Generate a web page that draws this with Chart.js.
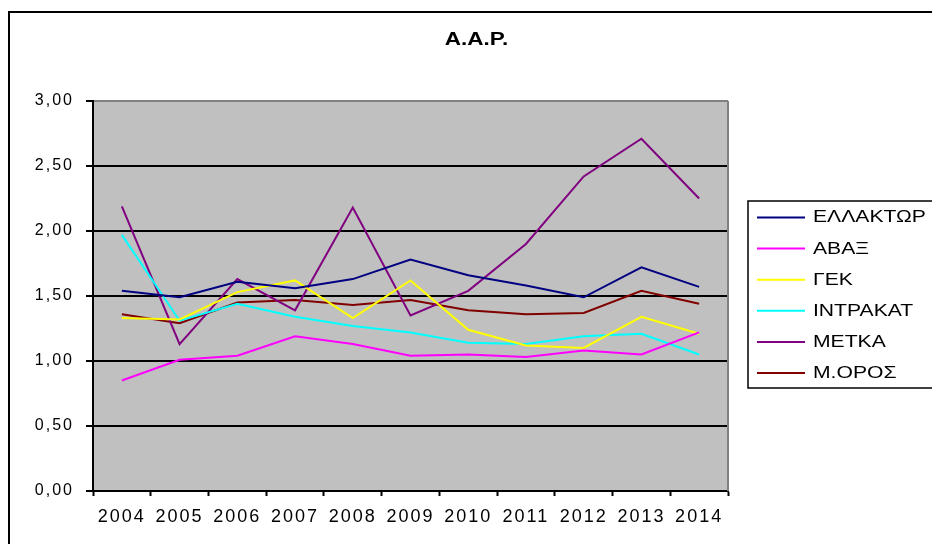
<!DOCTYPE html>
<html>
<head>
<meta charset="utf-8">
<script src="https://cdn.jsdelivr.net/npm/chart.js@4/dist/chart.umd.min.js"></script>
<style>
  body { margin: 0; background: #fff; }
  canvas { display: block; }
</style>
</head>
<body>
<canvas id="aapChart" width="932" height="544"></canvas>
<script>
/* =========================
   DATA
========================= */
const years = ['2004','2005','2006','2007','2008','2009','2010','2011','2012','2013','2014'];

const ellaktor = [1.54, 1.49, 1.61, 1.56, 1.63, 1.78, 1.66, 1.58, 1.49, 1.72, 1.57];
const avax     = [0.85, 1.01, 1.04, 1.19, 1.13, 1.04, 1.05, 1.03, 1.08, 1.05, 1.22];
const gek      = [1.33, 1.32, 1.53, 1.62, 1.33, 1.62, 1.24, 1.12, 1.10, 1.34, 1.21];
const intrakat = [1.97, 1.31, 1.44, 1.34, 1.27, 1.22, 1.14, 1.13, 1.19, 1.21, 1.05];
const metka    = [2.19, 1.13, 1.63, 1.39, 2.18, 1.35, 1.54, 1.90, 2.42, 2.71, 2.25];
const mesos    = [1.36, 1.29, 1.45, 1.47, 1.43, 1.47, 1.39, 1.36, 1.37, 1.54, 1.44];

const seriesNames  = ['ΕΛΛΑΚΤΩΡ', 'ΑΒΑΞ', 'ΓΕΚ', 'ΙΝΤΡΑΚΑΤ', 'ΜΕΤΚΑ', 'Μ.ΟΡΟΣ'];
const seriesColors = ['#000080', '#FF00FF', '#FFFF00', '#00FFFF', '#800080', '#800000'];
const seriesValues = [ellaktor, avax, gek, intrakat, metka, mesos];

const titleText = 'Α.Α.Ρ.';
const yTicks = [0, 0.5, 1, 1.5, 2, 2.5, 3];

/* =========================
   STRETCHED TEXT (excel look)
========================= */
function wideText(ctx, text, x, y, sx, align){
    ctx.save();
    ctx.translate(x, y);
    ctx.scale(sx, 1);
    ctx.textAlign = align;
    ctx.fillText(text, 0, 0);
    ctx.restore();
}

/* =========================
   FRAME / TITLE / LEGEND PLUGIN
========================= */
const excelFrame = {
    id: 'excelFrame',
    beforeDraw(chart){
        const ctx = chart.ctx;
        const a = chart.chartArea;
        ctx.save();
        ctx.fillStyle = '#ffffff';
        ctx.fillRect(0, 0, chart.width, chart.height);

        // outer border
        ctx.strokeStyle = '#000';
        ctx.lineWidth = 2;
        ctx.strokeRect(9, 12, chart.width + 20, chart.height + 20);

        // plot background
        ctx.fillStyle = '#C0C0C0';
        ctx.fillRect(a.left, a.top, a.right - a.left, a.bottom - a.top);

        // title
        ctx.fillStyle = '#000';
        ctx.font = 'bold 18px "Liberation Sans", Arial, sans-serif';
        ctx.textBaseline = 'middle';
        wideText(ctx, titleText, 476.5, 40, 1.25, 'center');

        // legend
        ctx.lineWidth = 1.5;
        ctx.strokeStyle = '#000';
        ctx.strokeRect(748, 201, 300, 187);
        ctx.font = '16px "Liberation Sans", Arial, sans-serif';
        chart.data.datasets.forEach((ds, i) => {
            let y = 217.5 + i * 31.1;
            ctx.strokeStyle = ds.borderColor;
            ctx.lineWidth = 2;
            ctx.beginPath();
            ctx.moveTo(757, y);
            ctx.lineTo(805, y);
            ctx.stroke();
            ctx.fillStyle = '#000';
            wideText(ctx, ds.label, 813, y + 0.5, 1.32, 'left');
        });
        ctx.restore();

        // stretched tick text like the original
        ctx.letterSpacing = '2px';
    },
    beforeDatasetsDraw(chart){
        const ctx = chart.ctx;
        const a = chart.chartArea;
        ctx.save();
        ctx.strokeStyle = '#808080';
        ctx.lineWidth = 2;
        ctx.beginPath();
        ctx.moveTo(a.right, a.top);
        ctx.lineTo(a.right, a.bottom);
        ctx.stroke();
        ctx.restore();
    },
    afterDraw(chart){
        chart.ctx.letterSpacing = '0px';
    }
};

/* =========================
   CHART
========================= */
new Chart(document.getElementById('aapChart'), {
    type: 'line',
    data: {
        labels: years,
        datasets: seriesNames.map((name, i) => ({
            label: name,
            data: seriesValues[i],
            borderColor: seriesColors[i],
            backgroundColor: seriesColors[i],
            borderWidth: 2,
            pointRadius: 0,
            tension: 0,
            fill: false
        }))
    },
    options: {
        responsive: false,
        animation: false,
        layout: { padding: { left: 0, right: 204, top: 101, bottom: 0 } },
        plugins: {
            legend: { display: false },
            title: { display: false },
            tooltip: { enabled: false }
        },
        scales: {
            x: {
                offset: true,
                grid: {
                    offset: true,
                    drawOnChartArea: false,
                    drawTicks: true,
                    tickLength: 5,
                    tickColor: '#000',
                    tickWidth: 2
                },
                border: { color: '#000', width: 2 },
                ticks: {
                    color: '#000',
                    font: { family: '"Liberation Sans", Arial, sans-serif', size: 18 },
                    padding: 10,
                    maxRotation: 0,
                    autoSkip: false
                },
                afterFit(scale){ scale.height = 53; }
            },
            y: {
                min: 0,
                max: 3,
                afterBuildTicks(scale){
                    scale.ticks = yTicks.map(v => ({ value: v }));
                },
                grid: {
                    color: ctx => (ctx.tick && ctx.tick.value === 3) ? '#808080' : '#000',
                    lineWidth: 2,
                    tickLength: 7,
                    tickColor: '#000',
                    tickWidth: 2
                },
                border: { color: '#000', width: 2 },
                ticks: {
                    color: '#000',
                    font: { family: '"Liberation Sans", Arial, sans-serif', size: 16 },
                    padding: 12,
                    callback: v => Number(v).toFixed(2).replace('.', ',')
                },
                afterFit(scale){ scale.width = 93; }
            }
        }
    },
    plugins: [excelFrame]
});
</script>
</body>
</html>
